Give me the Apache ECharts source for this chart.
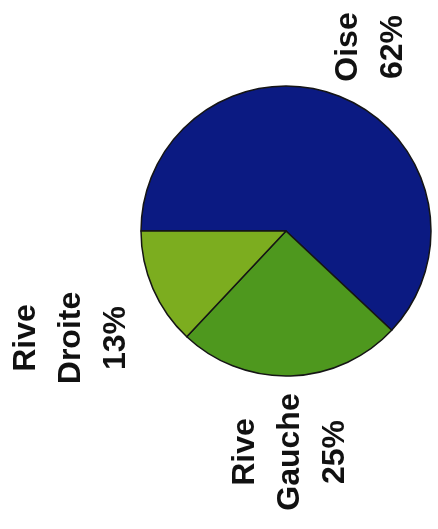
<!DOCTYPE html>
<html>
<head>
<meta charset="utf-8">
<script src="https://cdn.jsdelivr.net/npm/echarts@6/dist/echarts.min.js"></script>
<style>
  html, body { margin: 0; padding: 0; background: #fff; }
  #chart { width: 438px; height: 529px; }
</style>
</head>
<body>
<div id="chart"></div>
<script>
// data
var names = ['Oise', 'Rive Gauche', 'Rive Droite'];
var shares = [62, 25, 13];
var colors = ['#0b1a82', '#4e981e', '#7cad1f'];

// label anchor spots (rotated text, centre of each block)
var labelSpots = [[371, 47], [290, 452], [71, 338]];

var chart = echarts.init(document.getElementById('chart'));

var pieData = [];
for (var i = 0; i < names.length; i++) {
    pieData.push({ name: names[i], value: shares[i], itemStyle: { color: colors[i] } });
}

var option = {
    backgroundColor: '#fff',
    animation: false,
    series: [{
        type: 'pie',
        center: [286, 231],
        radius: 145,
        startAngle: 180,
        clockwise: true,
        data: pieData,
        itemStyle: {
            borderColor: '#151515',
            borderWidth: 1.5
        },
        label: {
            show: true,
            position: 'outside',
            rotate: 90,
            color: '#111',
            fontFamily: "'Liberation Sans', Arial, sans-serif",
            fontWeight: 'bold',
            fontSize: 32,
            lineHeight: 45,
            align: 'center',
            formatter: function (p) {
                return p.name.replace(' ', '\n') + '\n' + p.value + '%';
            }
        },
        labelLine: { show: false },
        labelLayout: function (params) {
            var s = labelSpots[params.dataIndex];
            return {
                x: s[0],
                y: s[1],
                rotate: 90,
                align: 'center',
                verticalAlign: 'middle'
            };
        }
    }]
};

chart.setOption(option);
</script>
</body>
</html>
